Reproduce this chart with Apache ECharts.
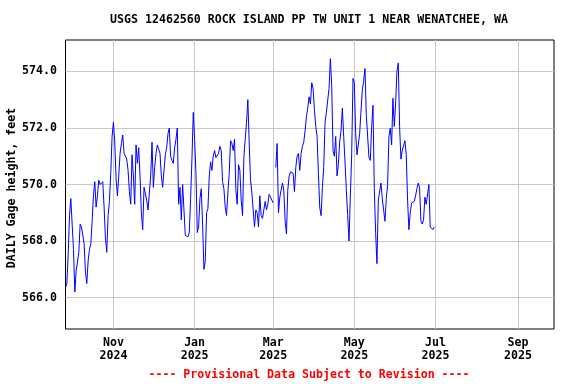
<!DOCTYPE html>
<html>
<head>
<meta charset="utf-8">
<script src="https://cdn.jsdelivr.net/npm/echarts@6/dist/echarts.min.js"></script>
<style>
  html, body { margin: 0; padding: 0; background: #fff; }
  #chart { width: 576px; height: 384px; }
</style>
</head>
<body>
<div id="chart"></div>
<script>
// daily gage height, starting 2024-09-26 (null = missing day)
const startDay = [2024, 8, 26];
const gageHeight = [
  566.35, 566.5, 567.5, 568.9, 569.5, 568.6, 567.7, 566.2, 566.95, 566.9,
  567.6, 568.6, 568.5, 568.45, 567.9, 566.9, 566.5, 567.3, 567.7, 567.9,
  568.7, 569.6, 570.1, 569.2, 569.6, 570.15, 570.0, 570.0, 570.1, 569.2,
  568.1, 567.6, 568.9, 569.4, 570.4, 571.7, 572.2, 571.5, 570.2, 569.6,
  570.3, 571.1, 571.45, 571.75, 571.1, 571.05, 570.9, 570.5, 569.75, 569.3,
  571.05, 570.3, 569.3, 571.4, 570.75, 571.3, 570.3, 569.0, 568.4, 569.9,
  569.85, 569.45, 569.1, 569.1, 570.3, 571.5, 569.9, 570.6, 571.1, 571.4,
  571.4, 571.1, 570.3, 569.9, 570.5, 571.05, 571.3, 571.8, 572.0, 571.0,
  570.85, 570.75, 571.3, 571.6, 572.0, 569.3, 569.9, 568.75, 570.0, 569.1,
  568.2, 568.2, 568.15, 568.3, 569.5, 570.9, 572.55, 571.6, 570.4, 568.3,
  568.5, 569.5, 569.85, 568.6, 567.0, 567.3, 569.0, 569.15, 570.3, 570.8,
  570.5, 571.0, 571.2, 570.95, 570.9, 571.1, 571.35, 571.2, 570.1, 569.85,
  569.2, 568.9, 569.7, 570.4, 571.55, 571.45, 571.2, 571.6, 569.8, 569.3,
  570.7, 570.5, 569.45, 568.9, 570.95, 571.6, 572.2, 573.0, 571.5, 570.15,
  569.7, 569.1, 568.5, 569.1, 569.0, 568.5, 569.6, 568.9, 568.8, 569.1,
  569.4, 569.1, 569.3, 569.65, 569.65, 569.45, 569.35, null, 570.6, 571.45,
  569.0, 569.55, 569.5, 570.05, 569.8, 568.7, 568.25, 569.8, 570.3, 570.45,
  570.45, 570.4, 569.75, 570.6, 571.0, 571.1, 570.5, 571.1, 571.35, 571.5,
  571.9, 572.4, 572.7, 573.1, 572.85, 573.6, 573.4, 572.65, 572.05, 571.7,
  570.4, 569.2, 568.9, 569.9, 570.6, 572.2, 572.55, 572.55, 573.4, 574.45,
  573.5, 571.2, 571.0, 571.7, 570.3, 570.7, 571.5, 571.9, 572.7, 571.7,
  570.8, 569.8, 568.9, 568.0, 569.6, 571.05, 573.75, 573.6, 571.8, 571.05,
  571.1, 571.8, 572.6, 573.35, 573.65, 574.1, 572.45, 572.4, 570.95, 570.85,
  572.05, 572.8, 569.85, 568.3, 567.2, 569.45, 569.45, 570.05, 569.5, 569.1,
  568.7, 569.5, 570.0, 571.7, 572.0, 571.4, 573.05, 572.05, 572.85, 574.0,
  574.3, 572.05, 570.9, 571.2, 571.2, 571.55, 571.05, 569.45, 568.4, 569.0,
  569.35, 569.3, 569.4, 569.6, 569.85, 570.05, 569.9, 568.7, 568.6, 568.75,
  569.55, 569.3, 569.3, 570.0, 568.5, 568.45, 568.4, 568.5
];
const monthTicks = [[2024, 10, 1], [2025, 0, 1], [2025, 2, 1], [2025, 4, 1], [2025, 6, 1], [2025, 8, 1]];
const monthNames = ['Jan', 'Feb', 'Mar', 'Apr', 'May', 'Jun', 'Jul', 'Aug', 'Sep', 'Oct', 'Nov', 'Dec'];
const yTicks = [566, 568, 570, 572, 574];

const ts = (y, m, d) => new Date(y, m, d).getTime();
const seriesData = gageHeight.map((v, i) => [ts(startDay[0], startDay[1], startDay[2] + i), v]);
const xTickValues = monthTicks.map(t => ts(t[0], t[1], t[2]));

const FONT = '"DejaVu Sans Mono", monospace';

const chart = echarts.init(document.getElementById('chart'));
chart.setOption({
  animation: false,
  backgroundColor: '#fff',
  grid: {
    left: 65.5, right: 22, top: 40, bottom: 55,
    show: true, borderColor: '#000', borderWidth: 1, backgroundColor: 'transparent'
  },
  xAxis: {
    type: 'value',
    min: ts(2024, 8, 26),
    max: ts(2025, 8, 28),
    axisLine: { show: false },
    axisTick: { show: false, customValues: xTickValues },
    splitLine: { show: true, lineStyle: { color: '#c8c8c8', width: 1 } },
    axisLabel: {
      customValues: xTickValues,
      margin: 7,
      color: '#000',
      fontFamily: FONT,
      fontWeight: 'bold',
      fontSize: 11.6,
      lineHeight: 13,
      formatter: v => {
        const d = new Date(v);
        return monthNames[d.getMonth()] + '\n' + d.getFullYear();
      }
    }
  },
  yAxis: {
    type: 'value',
    min: 564.89,
    max: 575.11,
    axisLine: { show: false },
    axisTick: { show: false, customValues: yTicks },
    splitLine: { show: true, lineStyle: { color: '#c8c8c8', width: 1 } },
    axisLabel: {
      customValues: yTicks,
      margin: 8.5,
      color: '#000',
      fontFamily: FONT,
      fontWeight: 'bold',
      fontSize: 11.6,
      formatter: v => v.toFixed(1)
    }
  },
  series: [{
    type: 'line',
    data: seriesData,
    showSymbol: false,
    connectNulls: false,
    lineStyle: { color: '#0000ff', width: 1 },
    itemStyle: { color: '#0000ff' }
  }],
  graphic: [
    {
      type: 'text', x: 309, y: 20,
      style: {
        text: 'USGS 12462560 ROCK ISLAND PP TW UNIT 1 NEAR WENATCHEE, WA',
        font: 'bold 11.6px ' + FONT, fill: '#000',
        textAlign: 'center', textVerticalAlign: 'middle'
      }
    },
    {
      type: 'text', x: 12, y: 188, rotation: Math.PI / 2,
      style: {
        text: 'DAILY Gage height, feet',
        font: 'bold 11.6px ' + FONT, fill: '#000',
        textAlign: 'center', textVerticalAlign: 'middle'
      }
    },
    {
      type: 'text', x: 309, y: 375,
      style: {
        text: '---- Provisional Data Subject to Revision ----',
        font: 'bold 11.6px ' + FONT, fill: '#ff0000',
        textAlign: 'center', textVerticalAlign: 'middle'
      }
    }
  ]
});
</script>
</body>
</html>
